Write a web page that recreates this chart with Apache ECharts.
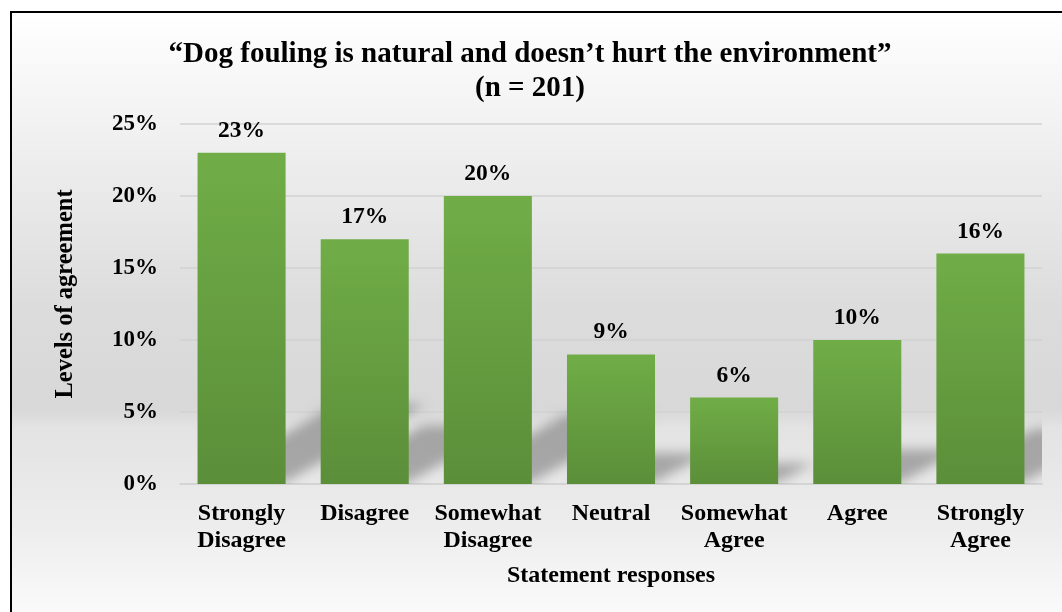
<!DOCTYPE html>
<html>
<head>
<meta charset="utf-8">
<title>Dog fouling survey</title>
<script src="https://cdn.jsdelivr.net/npm/echarts@6/dist/echarts.min.js"></script>
<style>
  html, body { margin: 0; padding: 0; background: #ffffff; }
  #chart { width: 1062px; height: 612px; }
</style>
</head>
<body>
<div id="chart"></div>
<script>
// Survey responses to the statement, as shares of respondents (%)
const categories = ['Strongly\nDisagree', 'Disagree', 'Somewhat\nDisagree', 'Neutral', 'Somewhat\nAgree', 'Agree', 'Strongly\nAgree'];
const shares = [23, 17, 20, 9, 6, 10, 16];
const yTicks = [0, 5, 10, 15, 20, 25];

const titleLines = ['\u201CDog fouling is natural and doesn\u2019t hurt the environment\u201D', '(n = 201)'];
const yTitle = 'Levels of agreement';
const xTitle = 'Statement responses';

const serif = '"Liberation Serif", "Times New Roman", serif';
const barFrac = 0.715;
const SHIFT = 3000; // shadow shapes are drawn off-canvas; only their blurred shadow lands on the plot

const chart = echarts.init(document.getElementById('chart'), null, { renderer: 'canvas' });

const option = {
  animation: false,
  backgroundColor: '#ffffff',
  graphic: [
    {
      type: 'rect', z: -10, silent: true,
      shape: { x: 11, y: 12, width: 1100, height: 660 },
      style: {
        fill: new echarts.graphic.LinearGradient(0, 0, 0, 1, [
          { offset: 0, color: '#ffffff' },
          { offset: 0.18, color: '#f1f1f1' },
          { offset: 0.45, color: '#dcdcdc' },
          { offset: 0.6, color: '#d8d8d8' },
          { offset: 0.63, color: '#e3e3e3' },
          { offset: 0.78, color: '#ededed' },
          { offset: 0.92, color: '#fbfbfb' },
          { offset: 1, color: '#ffffff' }
        ]),
        stroke: '#000000', lineWidth: 2
      }
    },
    {
      type: 'text', z: 10, x: 530, y: 38,
      style: {
        text: titleLines.join('\n'), font: 'bold 29px ' + serif, fill: '#000000',
        textAlign: 'center', lineHeight: 34
      }
    },
    {
      type: 'text', z: 10, x: 66, y: 294, rotation: Math.PI / 2,
      style: {
        text: yTitle, font: 'bold 24.5px ' + serif, fill: '#000000',
        textAlign: 'center', textVerticalAlign: 'middle'
      }
    },
    {
      type: 'text', z: 10, x: 611, y: 576,
      style: {
        text: xTitle, font: 'bold 24px ' + serif, fill: '#000000',
        textAlign: 'center', textVerticalAlign: 'middle'
      }
    }
  ],
  grid: { left: 180, right: 20, top: 124, bottom: 128 },
  xAxis: {
    type: 'category',
    data: categories,
    axisLine: { show: true, lineStyle: { color: '#d4d4d4', width: 2 } },
    axisTick: { show: false },
    axisLabel: {
      color: '#000000', fontFamily: serif, fontWeight: 'bold', fontSize: 24,
      lineHeight: 27, margin: 16, interval: 0
    }
  },
  yAxis: {
    type: 'value',
    min: yTicks[0],
    max: yTicks[yTicks.length - 1],
    interval: yTicks[1] - yTicks[0],
    axisLine: { show: false },
    axisTick: { show: false },
    splitLine: { lineStyle: { color: '#d2d2d2', width: 1.5 } },
    axisLabel: {
      color: '#000000', fontFamily: serif, fontWeight: 'bold', fontSize: 23,
      margin: 22, formatter: v => v + '%'
    }
  },
  series: [
    {
      // soft perspective shadow cast up and to the right behind each bar
      type: 'custom',
      z: 1,
      clip: true,
      silent: true,
      data: shares.map((v, i) => [i, v]),
      renderItem: function (params, api) {
        const top = api.coord([api.value(0), api.value(1)]);
        const base = api.coord([api.value(0), 0]);
        const band = api.size([1, 0])[0];
        const half = band * barFrac / 2;
        const x0 = base[0] - half, x1 = base[0] + half, y0 = base[1];
        const h = y0 - top[1];
        const dx = h * 0.42, dy = h * 0.24;
        const pts = [[x0 + 4, y0 - 2], [x1, y0 - 2], [x1 + dx, y0 - dy], [x0 + dx, y0 - dy]]
          .map(p => [p[0], p[1] - SHIFT]);
        return {
          type: 'polygon',
          shape: { points: pts },
          style: {
            fill: '#000000',
            shadowBlur: 12,
            shadowOffsetY: SHIFT,
            shadowColor: 'rgba(0,0,0,0.28)'
          }
        };
      }
    },
    {
      type: 'bar',
      z: 3,
      data: shares,
      barWidth: (barFrac * 100) + '%',
      itemStyle: {
        color: new echarts.graphic.LinearGradient(0, 0, 0, 1, [
          { offset: 0, color: '#70ad47' },
          { offset: 1, color: '#5b8e39' }
        ])
      },
      label: {
        show: true, position: 'top', distance: 10,
        color: '#000000', fontFamily: serif, fontWeight: 'bold', fontSize: 23.5,
        formatter: p => Math.round(p.value) + '%'
      }
    }
  ]
};

chart.setOption(option);
</script>
</body>
</html>
